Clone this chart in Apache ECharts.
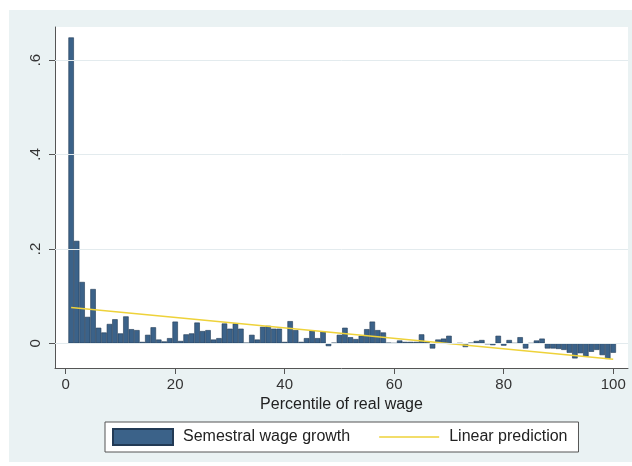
<!DOCTYPE html>
<html>
<head>
<meta charset="utf-8">
<script src="https://cdn.jsdelivr.net/npm/echarts@6/dist/echarts.min.js"></script>
<style>
  html, body { margin: 0; padding: 0; background: #ffffff; }
  #chart { width: 632px; height: 466px; }
</style>
</head>
<body>
<div id="chart"></div>
<script>
// ---- data ----
const percentiles = Array.from({ length: 100 }, (_, i) => i + 1);
const wageGrowth = [
  0.648, 0.217, 0.130, 0.056, 0.115, 0.033, 0.023, 0.041, 0.051, 0.021,
  0.057, 0.030, 0.028, 0.003, 0.018, 0.034, 0.008, 0.004, 0.011, 0.046,
  0.005, 0.019, 0.021, 0.044, 0.026, 0.028, 0.008, 0.011, 0.042, 0.031,
  0.042, 0.031, 0.001, 0.018, 0.008, 0.035, 0.037, 0.031, 0.031, 0.003,
  0.047, 0.028, 0.003, 0.011, 0.027, 0.011, 0.025, -0.006, 0.001, 0.018,
  0.033, 0.013, 0.009, 0.016, 0.030, 0.046, 0.028, 0.023, 0.001, 0.000,
  0.006, 0.003, 0.003, 0.003, 0.019, 0.003, -0.011, 0.008, 0.010, 0.016,
  -0.001, 0.000, -0.008, 0.001, 0.005, 0.007, -0.002, -0.004, 0.016, -0.005,
  0.007, 0.000, 0.013, -0.011, 0.000, 0.006, 0.010, -0.011, -0.011, -0.012,
  -0.014, -0.020, -0.032, -0.021, -0.028, -0.018, -0.014, -0.025, -0.033, -0.020
];
const linearX = [1, 100];
const linearY = [0.076, -0.034];
const xTicks = [0, 20, 40, 60, 80, 100];
const yTicks = [0, 0.2, 0.4, 0.6];
const yTickLabels = ['0', '.2', '.4', '.6'];
const seriesNames = ['Semestral wage growth', 'Linear prediction'];
const xTitle = 'Percentile of real wage';

// ---- chart ----
const chart = echarts.init(document.getElementById('chart'), null, { renderer: 'canvas' });
const font = 'Liberation Sans, Arial, Helvetica, sans-serif';
// thin horizontal stroke icon (tiny corner anchors keep the 60x16 box)
const lineIcon = 'path://M0,7.3L60,7.3L60,8.7L0,8.7Z M0,0L0.01,0L0,0.01Z M60,16L59.99,16L60,15.99Z';

const option = {
  backgroundColor: '#ffffff',
  animation: false,
  graphic: [{
    type: 'rect', z: -10, silent: true,
    shape: { x: 9, y: 10, width: 623, height: 452 },
    style: { fill: '#eaf2f3' }
  }],
  grid: {
    left: 55, right: 4, top: 27, bottom: 98,
    show: true, backgroundColor: '#ffffff', borderWidth: 0
  },
  legend: {
    data: [
      { name: seriesNames[0], icon: 'rect' },
      { name: seriesNames[1], icon: lineIcon }
    ],
    left: 105, top: 422,
    orient: 'horizontal',
    backgroundColor: '#ffffff',
    borderColor: '#555555', borderWidth: 1,
    padding: [6, 11, 6, 7],
    itemWidth: 60, itemHeight: 16, itemGap: 29,
    textStyle: { fontFamily: font, fontSize: 16, color: '#222', padding: [0, 0, 0, 5] }
  },
  xAxis: {
    type: 'value', min: -1.95, max: 102.7,
    name: xTitle, nameLocation: 'middle', nameGap: 27,
    nameTextStyle: { fontFamily: font, fontSize: 16, color: '#222' },
    axisLine: { onZero: false, lineStyle: { color: '#555', width: 1 } },
    axisTick: { show: true, length: 6, customValues: xTicks, lineStyle: { color: '#555' } },
    axisLabel: { customValues: xTicks, margin: 9, fontFamily: font, fontSize: 15, color: '#333' },
    splitLine: { show: false }
  },
  yAxis: {
    type: 'value', min: -0.0523, max: 0.6701,
    axisLine: { show: true, onZero: false, lineStyle: { color: '#555', width: 1 } },
    axisTick: { show: true, length: 6, customValues: yTicks, lineStyle: { color: '#555' } },
    axisLabel: {
      customValues: yTicks, rotate: 90, margin: 12,
      fontFamily: font, fontSize: 15, color: '#333',
      formatter: v => yTickLabels[yTicks.findIndex(t => Math.abs(t - v) < 1e-9)] ?? ''
    },
    splitLine: { show: false }
  },
  series: [
    {
      name: 'grid', type: 'line', data: [], z: 0, silent: true,
      markLine: {
        silent: true, symbol: 'none', label: { show: false },
        lineStyle: { color: '#e3ebee', width: 1, type: 'solid' },
        data: yTicks.map(v => ({ yAxis: v }))
      }
    },
    {
      name: seriesNames[0], type: 'bar', z: 2,
      barWidth: 5.48,
      itemStyle: { color: '#3b6289', borderColor: '#223a55', borderWidth: 0.6 },
      data: percentiles.map((p, i) => [p, wageGrowth[i]])
    },
    {
      name: seriesNames[1], type: 'line', z: 3,
      symbol: 'none',
      lineStyle: { color: '#eed23a', width: 1.5 },
      itemStyle: { color: '#eed23a' },
      data: linearX.map((x, i) => [x, linearY[i]])
    }
  ]
};
chart.setOption(option);
</script>
</body>
</html>
